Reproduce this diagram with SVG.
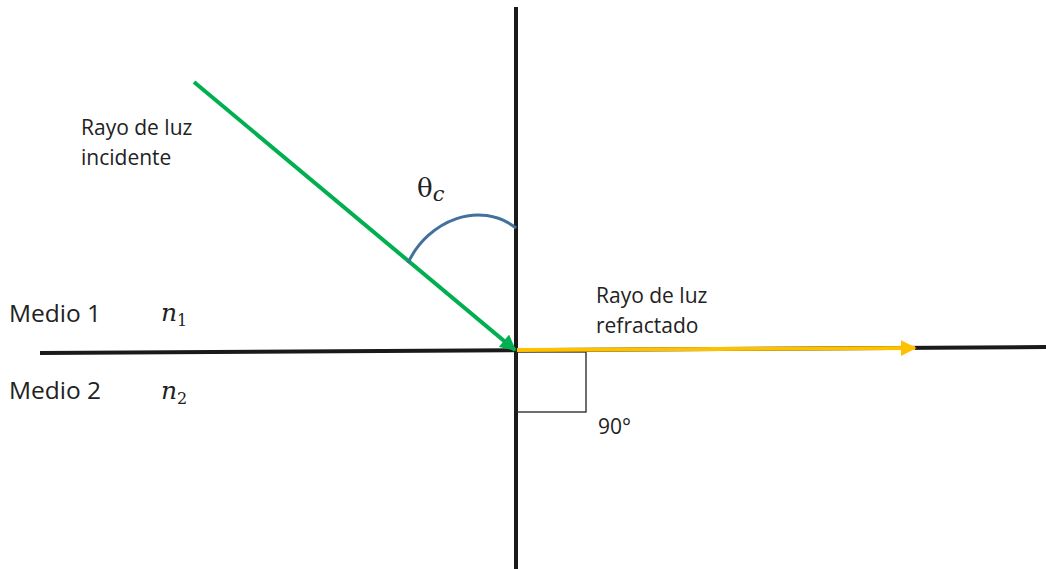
<svg xmlns="http://www.w3.org/2000/svg" width="1046" height="569" viewBox="0 0 1046 569">
<style>
.lbl{font-family:"Open Sans","DejaVu Sans",sans-serif;font-size:21px;fill:#222}
.med{font-family:"Open Sans","DejaVu Sans",sans-serif;font-size:24.5px;fill:#222}
.math{font-family:"DejaVu Serif","Liberation Serif",serif;font-style:italic;fill:#222}
.axis{stroke:#1a1a1a;stroke-width:4;fill:none}
</style>
<defs>
<marker id="ag" viewBox="0 0 10 10" refX="9" refY="5" markerWidth="4.2" markerHeight="4" orient="auto" markerUnits="strokeWidth"><path d="M0,0 L10,5 L0,10 z" fill="#00b050"/></marker>
<marker id="ay" viewBox="0 0 10 10" refX="9" refY="5" markerWidth="4" markerHeight="4" orient="auto" markerUnits="strokeWidth"><path d="M0,0 L10,5 L0,10 z" fill="#ffc000"/></marker>
</defs>
<g id="axes">
<line class="axis" x1="516" y1="7" x2="516" y2="569"/>
<line class="axis" x1="40" y1="353" x2="1046" y2="347"/>
</g>
<g id="right-angle"><rect x="516" y="352" width="70" height="60" fill="none" stroke="#222" stroke-width="1.3"/></g>
<g id="connectors">
<line x1="194" y1="82" x2="515" y2="350" stroke="#00b050" stroke-width="4" marker-end="url(#ag)"/>
<line x1="517" y1="350" x2="915" y2="348" stroke="#ffc000" stroke-width="4" marker-end="url(#ay)"/>
<path d="M408,263 C428,220 480,200 516,228" fill="none" stroke="#41719c" stroke-width="3"/>
</g>
<g id="labels">
<text class="lbl" x="81" y="135">Rayo de luz</text>
<text class="lbl" x="81" y="165">incidente</text>
<text class="lbl" x="596" y="303">Rayo de luz</text>
<text class="lbl" x="596" y="333">refractado</text>
<text class="lbl" x="598" y="434">90°</text>
<text class="med" x="9" y="322">Medio 1</text>
<text class="med" x="9" y="399">Medio 2</text>
<text class="math" x="161" y="321" font-size="25">n<tspan font-size="16" dy="5" font-style="normal">1</tspan></text>
<text class="math" x="161" y="399" font-size="25">n<tspan font-size="16" dy="5" font-style="normal">2</tspan></text>
<text x="417" y="197" font-family="DejaVu Serif,serif" font-size="26" fill="#222">θ<tspan font-style="italic" font-size="21" dy="4">c</tspan></text>
</g>
</svg>
